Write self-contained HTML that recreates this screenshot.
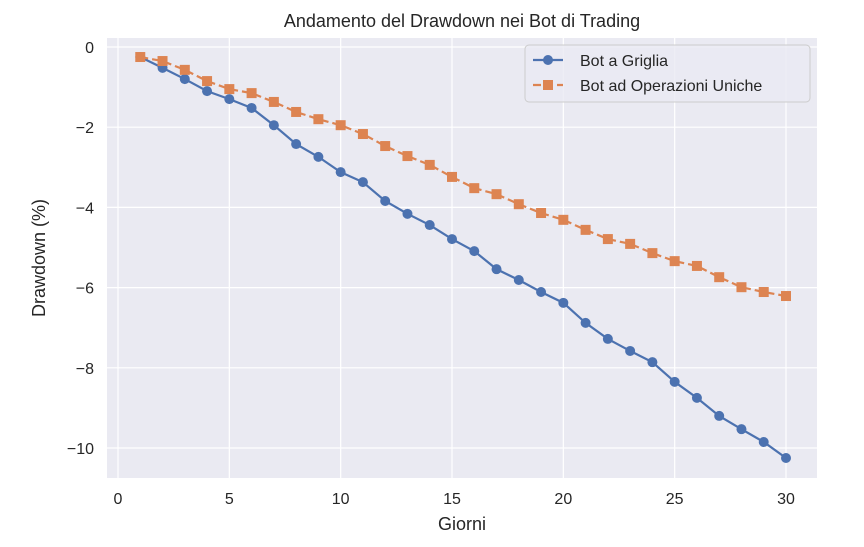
<!DOCTYPE html>
<html><head><meta charset="utf-8"><style>
body{margin:0;background:#fff;}
svg text{font-family:"Liberation Sans","DejaVu Sans",sans-serif;fill:#262626;}
</style></head><body>
<svg width="864" height="542" xmlns="http://www.w3.org/2000/svg">
<text x="462" y="27" font-size="18" text-anchor="middle">Andamento del Drawdown nei Bot di Trading</text>
<rect x="107" y="38" width="710" height="440" fill="#eaeaf2"/>
<g id="grid"></g>
<g id="xticks"></g>
<g id="yticks"></g>
<g id="series"></g>
<text x="462" y="530" font-size="18" text-anchor="middle">Giorni</text>
<text x="45" y="258" font-size="18" text-anchor="middle" transform="rotate(-90 45 258)">Drawdown (%)</text>
<g>
<rect x="525" y="45" width="285" height="57" rx="4" fill="#eaeaf2" fill-opacity="0.8" stroke="#cccccc"/>
<line x1="533" y1="60" x2="563" y2="60" stroke="#4c72b0" stroke-width="2.2"/>
<circle cx="548" cy="60" r="5" fill="#4c72b0"/>
<text x="580" y="66" font-size="16">Bot a Griglia</text>
<line x1="533" y1="85" x2="563" y2="85" stroke="#dd8452" stroke-width="2.2" stroke-dasharray="8,4"/>
<rect x="543" y="80" width="10" height="10" fill="#dd8452"/>
<text x="580" y="91" font-size="16">Bot ad Operazioni Uniche</text>
</g>
</svg>
<script>
const days=[1,2,3,4,5,6,7,8,9,10,11,12,13,14,15,16,17,18,19,20,21,22,23,24,25,26,27,28,29,30];
const gridBot=[-0.25,-0.52,-0.8,-1.1,-1.3,-1.52,-1.95,-2.42,-2.74,-3.12,-3.37,-3.84,-4.16,-4.44,-4.79,-5.09,-5.54,-5.81,-6.11,-6.38,-6.88,-7.28,-7.58,-7.86,-8.35,-8.75,-9.2,-9.53,-9.85,-10.25];
const singleBot=[-0.25,-0.35,-0.57,-0.85,-1.05,-1.15,-1.37,-1.62,-1.8,-1.95,-2.17,-2.47,-2.72,-2.94,-3.24,-3.52,-3.67,-3.92,-4.14,-4.31,-4.56,-4.79,-4.91,-5.14,-5.34,-5.46,-5.74,-5.99,-6.11,-6.21];
const xTicks=[0,5,10,15,20,25,30];
const yTicks=[0,-2,-4,-6,-8,-10];
const NS="http://www.w3.org/2000/svg";
const X=v=>118+v*(786-118)/30;
const Y=v=>47+(-v)*(448-47)/10;
function mk(t,a,p){const e=document.createElementNS(NS,t);for(const k in a)e.setAttribute(k,a[k]);p.appendChild(e);return e;}
const grid=document.getElementById('grid'),xt=document.getElementById('xticks'),yt=document.getElementById('yticks'),ser=document.getElementById('series');
xTicks.forEach(v=>{
 const l=mk('line',{x1:X(v),x2:X(v),y1:38,y2:478,stroke:'#fff','stroke-width':1.2},grid);
 
 
 const t=mk('text',{x:X(v),y:504,'font-size':16,'text-anchor':'middle'},xt);t.textContent=v;
 
 
});
yTicks.forEach(v=>{
 const l=mk('line',{x1:107,x2:817,y1:Y(v),y2:Y(v),stroke:'#fff','stroke-width':1.2},grid);
 
 
 const t=mk('text',{x:94,y:Y(v)+6,'font-size':16,'text-anchor':'end'},yt);t.textContent=v<0?'\u2212'+(-v):v;
 
 
});
const p1=mk('polyline',{points:days.map((d,i)=>X(d)+','+Y(gridBot[i])).join(' '),fill:'none',stroke:'#4c72b0','stroke-width':2.2},ser);


const p2=mk('polyline',{points:days.map((d,i)=>X(d)+','+Y(singleBot[i])).join(' '),fill:'none',stroke:'#dd8452','stroke-width':2.2,'stroke-dasharray':'8,4'},ser);


days.forEach((d,i)=>{
 const c=mk('circle',{cx:X(d),cy:Y(gridBot[i]),r:5,fill:'#4c72b0'},ser);
 
 
 const r=mk('rect',{x:X(d)-5,y:Y(singleBot[i])-5,width:10,height:10,fill:'#dd8452'},ser);
 
 
});
</script>
</body></html>
